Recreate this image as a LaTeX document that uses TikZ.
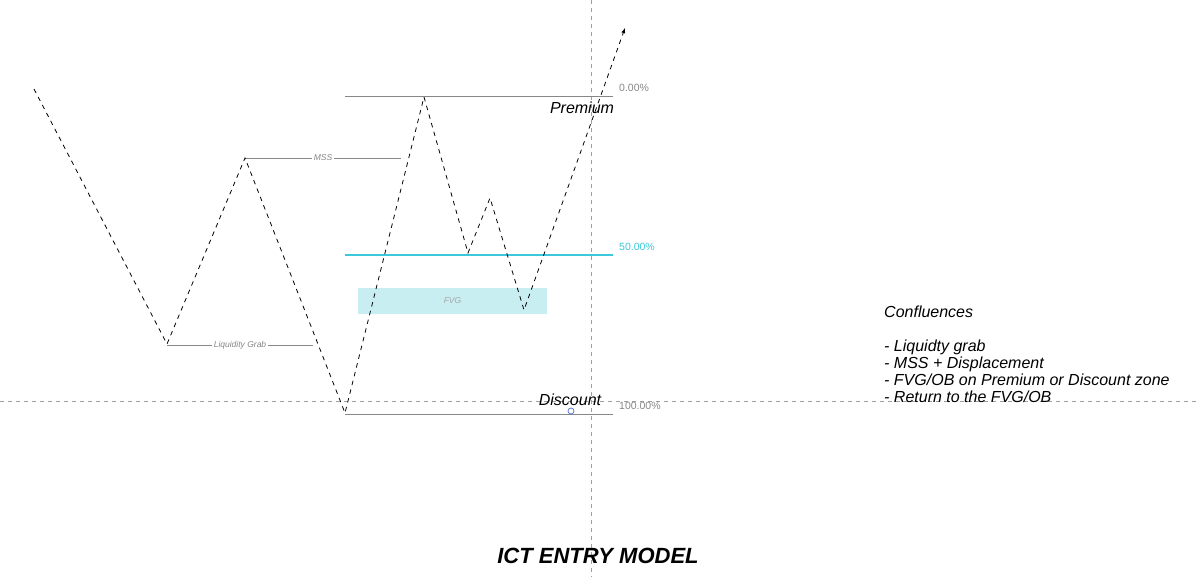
\documentclass[tikz,border=0pt]{standalone}
\usepackage{fontspec}
\setmainfont{Liberation Sans}
\definecolor{fibcyan}{RGB}{60,200,218}
\definecolor{fvgfill}{RGB}{200,238,242}
\definecolor{levgray}{RGB}{135,135,135}
\definecolor{cursorblue}{RGB}{80,110,200}

\tikzset{%
  >=latex,
  price/.style={black, line width=0.8pt, dash pattern=on 4.5pt off 4.5pt},
  level/.style={line width=0.8pt},
  guide/.style={draw=gray!75, line width=0.5pt, dash pattern=on 4pt off 4pt},
  tag/.style={font=\itshape\fontsize{8.5}{10}\selectfont, text=levgray, fill=white, inner sep=2pt},
  pct/.style={font=\fontsize{10.5}{12}\selectfont, anchor=west, inner sep=0pt},
  zone/.style={font=\itshape\fontsize{16}{18}\selectfont, inner sep=0pt}
}

\begin{document}
\begin{tikzpicture}[x=1pt,y=-1pt]
  \useasboundingbox (0,0) rectangle (1199,577);

  % crosshair
  \coordinate (vtop) at (591,0);  \coordinate (vbot) at (591,577);
  \coordinate (hleft) at (0,401); \coordinate (hright) at (1199,401);
  \draw[guide] (vtop) -- (vbot);
  \draw[guide] (hleft) -- (hright);

  % fair value gap
  \node[fill=fvgfill, minimum width=189pt, minimum height=26pt, inner sep=0pt,
        font=\itshape\fontsize{8.5}{10}\selectfont, text=gray!70] (fvg) at (452.5,301) {FVG};

  % fib levels
  \foreach \n/\y/\t in {top/96/0.00\%, bot/414/100.00\%}
  {
    \coordinate (\n l) at (345,\y);
    \coordinate (\n r) at (613,\y);
    \draw[level, draw=levgray] (\n l) -- (\n r);
    \node[pct, text=levgray] (\n lab) at (619,\y-8) {\t};
  }
  \coordinate (midl) at (345,255);
  \coordinate (midr) at (613,255);
  \draw[draw=fibcyan, line width=1.1pt] (midl) -- (midr);
  \node[pct, text=fibcyan] (midlab) at (619,247) {50.00\%};

  % structure lines
  \coordinate (mssl) at (245,158);  \coordinate (mssr) at (401,158);
  \draw[level, draw=levgray] (mssl) -- (mssr) node[tag, midway] (msslab) {MSS};
  \coordinate (grabl) at (167,345); \coordinate (grabr) at (313,345);
  \draw[level, draw=levgray] (grabl) -- (grabr) node[tag, midway] (grablab) {Liquidity Grab};

  % price path
  \foreach \i/\x/\y in {0/34/89, 1/167/344, 2/245/158, 3/345/413, 4/424/97,
                        5/468/253, 6/490/198, 7/524/310, 8/625/28}
    \coordinate (p\i) at (\x,\y);
  \draw[price, ->] (p0) -- (p1) -- (p2) -- (p3) -- (p4) -- (p5) -- (p6) -- (p7) -- (p8);

  % zones
  \node[zone] (premium) at (582,108) {Premium};
  \node[zone] (discount) at (570,400) {Discount};
  \node[circle, draw=cursorblue, line width=0.7pt, inner sep=0pt, minimum size=6pt] (dot) at (571,411) {};

  % notes
  \node[anchor=north west, align=left, inner sep=0pt,
        font=\itshape\fontsize{16}{17}\selectfont] (notes) at (884,306)
    {Confluences\\[17pt]
     - Liquidty grab\\
     - MSS + Displacement\\
     - FVG/OB on Premium or Discount zone\\
     - Return to the FVG/OB};

  \node[font=\bfseries\itshape\fontsize{22}{26}\selectfont] (title) at (598,556) {ICT ENTRY MODEL};
\end{tikzpicture}
\end{document}
